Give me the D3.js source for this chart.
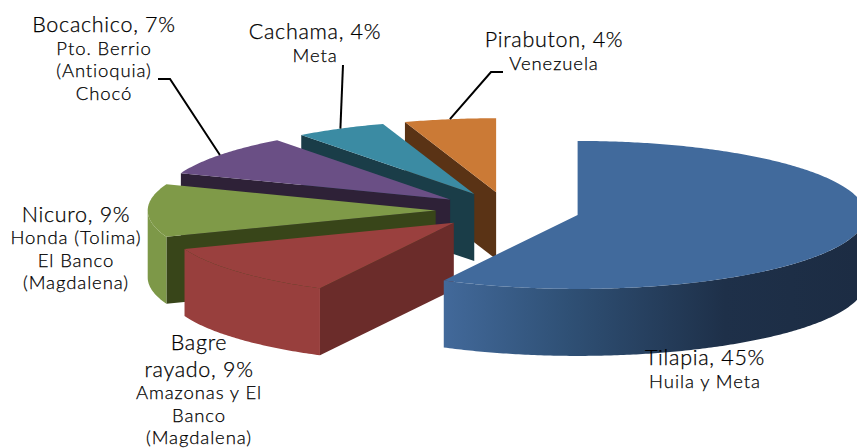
<!DOCTYPE html>
<html>
<head>
<meta charset="utf-8">
<script src="https://cdn.jsdelivr.net/npm/d3@7"></script>
<style>
  html, body { margin: 0; padding: 0; background: #fff; overflow: hidden; }
  svg { display: block; }
  text { font-family: Lato, sans-serif; font-weight: 300; fill: #000; stroke: #000; stroke-width: 0.25; text-anchor: middle; }
</style>
</head>
<body>
<svg id="chart" width="857" height="448"></svg>
<script>
const species = ["Tilapia", "Bagre rayado", "Nicuro", "Bocachico", "Cachama", "Pirabuton"];
const shares = [45, 9, 9, 7, 4, 4];
const titleLines = [
  ["Tilapia, 45%"],
  ["Bagre", "rayado, 9%"],
  ["Nicuro, 9%"],
  ["Bocachico, 7%"],
  ["Cachama, 4%"],
  ["Pirabuton, 4%"],
];
const regionLines = [
  ["Huila y Meta"],
  ["Amazonas y El", "Banco", "(Magdalena)"],
  ["Honda (Tolima)", "El Banco", "(Magdalena)"],
  ["Pto. Berrio", "(Antioquia)", "Chocó"],
  ["Meta"],
  ["Venezuela"],
];
const topColors = ["#416a9c", "#9a403e", "#7f9a48", "#6a4f85", "#3b8ba3", "#cb7a36"];
const faceColors = ["#1c2c43", "#6b2c2a", "#384519", "#2e2137", "#1a3d48", "#5a3315"];
const wallColors = ["url(#tilapiaWall)", "#983f3d", "#7d9848", "#5b4472", "#32778c", "#ad682e"];

// label placement: centre x and first baseline, title and region line heights
const labelPos = [
  { x: 705, y: 365, titleStep: 26, gap: 23 },
  { x: 199, y: 350, titleStep: 27, gap: 22.3 },
  { x: 76, y: 222, titleStep: 26, gap: 22.3 },
  { x: 104, y: 32, titleStep: 26, gap: 22.7 },
  { x: 315, y: 39, titleStep: 26, gap: 23 },
  { x: 554, y: 47, titleStep: 26, gap: 23 },
];
const leaderStart = { 3: [158, 79, 170, 79], 4: [343, 65, 343, 65], 5: [503, 72, 491, 72] };

const cx = 507.7, cy = 210.5, rx = 288, ry = 74, depth = 67, explode = 0.25;

const svg = d3.select("#chart");

const defs = svg.append("defs");
const grad = defs.append("linearGradient")
  .attr("id", "tilapiaWall")
  .attr("gradientUnits", "userSpaceOnUse")
  .attr("x1", 444).attr("x2", 857).attr("y1", 0).attr("y2", 0);
[[0, "#42699a"], [0.3, "#2f5075"], [0.68, "#1e3049"], [1, "#1c2c43"]].forEach(([o, c]) =>
  grad.append("stop").attr("offset", o).attr("stop-color", c));

// unit circle -> flattened ellipse on screen
const px = d3.scaleLinear().domain([-1, 1]).range([cx - rx, cx + rx]);
const py = d3.scaleLinear().domain([-1, 1]).range([cy + ry, cy - ry]);

const slices = d3.pie().sort(null).startAngle(0).endAngle(2 * Math.PI)(shares);

const line = d3.line().x((d) => d[0]).y((d) => d[1]);

slices.forEach((s) => {
  const mid = (s.startAngle + s.endAngle) / 2;
  s.ox = explode * Math.sin(mid);
  s.oy = explode * Math.cos(mid);
});

const apex = (s) => [px(s.ox), py(s.oy)];
const rim = (s, a) => [px(s.ox + Math.sin(a)), py(s.oy + Math.cos(a))];
const arcPoints = (s, a0, a1) => {
  const n = Math.max(2, Math.ceil((a1 - a0) * 90));
  return d3.range(n + 1).map((i) => rim(s, a0 + ((a1 - a0) * i) / n));
};
const drop = (p) => [p[0], p[1] + depth];

const marks = svg.append("g");

// back to front: last slice first, Tilapia on top
slices.slice().reverse().forEach((s) => {
  const g = marks.append("g");
  const i = s.index;

  // radial side that faces the viewer
  if (Math.sin(s.startAngle) < -1e-6) {
    const a = apex(s), b = rim(s, s.startAngle);
    g.append("path").attr("d", line([a, b, drop(b), drop(a)]) + "Z").attr("fill", faceColors[i]);
  }

  // outer wall, front half of the ellipse only
  const w0 = Math.max(s.startAngle, Math.PI / 2);
  const w1 = Math.min(s.endAngle, (3 * Math.PI) / 2);
  if (w1 > w0) {
    const pts = arcPoints(s, w0, w1);
    g.append("path")
      .attr("d", line(pts.concat(pts.slice().reverse().map(drop))) + "Z")
      .attr("fill", wallColors[i]);
  }

  // top
  g.append("path")
    .attr("d", line([apex(s)].concat(arcPoints(s, s.startAngle, s.endAngle))) + "Z")
    .attr("fill", topColors[i]);
});

// leader lines
Object.keys(leaderStart).forEach((k) => {
  const s = slices[k];
  const st = leaderStart[k];
  const end = rim(s, (s.startAngle + s.endAngle) / 2);
  svg.append("path")
    .attr("d", line([[st[0], st[1]], [st[2], st[3]], end]))
    .attr("fill", "none")
    .attr("stroke", "#000")
    .attr("stroke-width", 2);
});

// labels
species.forEach((name, i) => {
  const pos = labelPos[i];
  const t = svg.append("text").attr("data-species", name);
  let y = pos.y;
  titleLines[i].forEach((l, j) => {
    if (j > 0) y += pos.titleStep;
    t.append("tspan").attr("x", pos.x).attr("y", y)
      .attr("font-size", 21.5).attr("letter-spacing", 0.7).text(l);
  });
  regionLines[i].forEach((l) => {
    y += pos.gap;
    t.append("tspan").attr("x", pos.x).attr("y", y)
      .attr("font-size", 18.5).attr("letter-spacing", 0.9).text(l);
  });
});
</script>
</body>
</html>
